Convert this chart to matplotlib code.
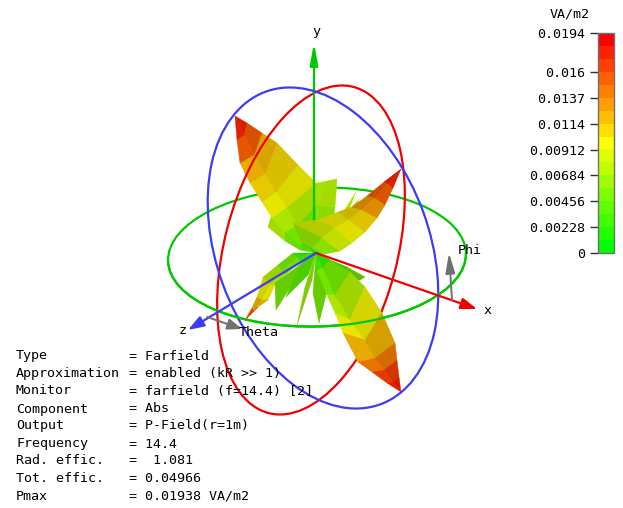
import matplotlib
matplotlib.use('Agg')
import matplotlib.pyplot as plt
from matplotlib.cm import ScalarMappable
from matplotlib.colors import LinearSegmentedColormap, Normalize, to_rgb
from matplotlib.patches import Arc, Ellipse

# colour scale
scale_ticks = [0, 0.00228, 0.00456, 0.00684, 0.00912, 0.0114, 0.0137, 0.016, 0.0194]
scale_labels = ['0', '0.00228', '0.00456', '0.00684', '0.00912', '0.0114', '0.0137', '0.016', '0.0194']
scale_unit = 'VA/m2'
scale_max = 0.0194

# info block
info_keys = ['Type', 'Approximation', 'Monitor', 'Component', 'Output', 'Frequency',
             'Rad. effic.', 'Tot. effic.', 'Pmax']
info_values = ['= Farfield', '= enabled (kR >> 1)', '= farfield (f=14.4) [2]', '= Abs',
               '= P-Field(r=1m)', '= 14.4', '=  1.081', '= 0.04966', '= 0.01938 VA/m2']
info_y = [356, 374, 391, 409, 426, 444, 461, 479, 496]

# rings: center, width, height, angle
green_ring = ((317, 257), 298, 139, -1.5)
blue_ring = ((323, 248), 333, 213, 69.8)
red_ring = ((311, 250), 337, 173, -75.4)

# lobes: rails run from the origin out to the tip, levels are VA/m2 at each station
origin = (316, 253)

ul_rails = [
    [(300, 245), (285, 232), (272, 218), (262, 202), (250, 183), (240, 163), (237, 140), (235, 116)],
    [(306, 238), (298, 225), (287, 207), (276, 192), (265, 174), (254, 155), (244, 135), (235, 116)],
    [(316, 225), (316, 205), (316, 183), (298, 165), (277, 143), (262, 133), (247, 123), (235, 116)],
]
ul_levels = [0.002, 0.003, 0.0055, 0.0078, 0.0095, 0.0108, 0.0125, 0.015, 0.018]

ur_rails = [
    [(302, 243), (293, 223), (317, 220), (338, 212), (352, 207), (367, 196), (384, 182), (401, 169)],
    [(312, 248), (322, 238), (335, 228), (349, 220), (362, 210), (375, 198), (388, 184), (401, 169)],
    [(325, 254), (340, 251), (352, 243), (365, 232), (377, 218), (385, 205), (393, 188), (401, 169)],
]
ur_levels = [0.002, 0.0035, 0.0068, 0.0082, 0.0095, 0.0112, 0.013, 0.015, 0.0178]

lr_rails = [
    [(317, 270), (327, 295), (335, 313), (343, 333), (358, 362), (372, 372), (387, 383), (401, 392)],
    [(323, 268), (335, 295), (350, 320), (365, 340), (375, 358), (384, 370), (393, 382), (401, 392)],
    [(330, 260), (350, 272), (365, 287), (382, 313), (395, 343), (397, 360), (399, 377), (401, 392)],
]
lr_levels = [0.001, 0.003, 0.0055, 0.0078, 0.0098, 0.0118, 0.0138, 0.016, 0.0182]

ll_rails = [
    [(293, 253), (278, 265), (263, 277), (257, 297), (252, 308), (245, 320)],
    [(297, 258), (282, 272), (270, 285), (262, 300), (254, 311), (245, 320)],
    [(300, 262), (285, 275), (275, 285), (268, 300), (258, 307), (245, 320)],
]
ll_levels = [0.001, 0.003, 0.005, 0.0075, 0.0098, 0.0125, 0.0155]

back_rails = [
    [(304, 235), (300, 215), (306, 196), (317, 183)],
    [(316, 238), (317, 222), (318, 205), (327, 181)],
    [(325, 240), (332, 228), (335, 207), (337, 179)],
]
back_levels = [0.002, 0.003, 0.0045, 0.0062, 0.0078]

back_left_rails = [
    [(300, 250), (285, 241), (268, 227)],
    [(302, 243), (285, 226), (275, 203)],
    [(310, 240), (300, 220), (290, 205)],
]
back_left_levels = [0.002, 0.0035, 0.0055, 0.007]

side_rails = [
    [(325, 258), (335, 262), (347, 267), (365, 277)],
    [(326, 262), (340, 275), (350, 281), (360, 280)],
]
side_levels = [0.001, 0.002, 0.0028, 0.0038, 0.0048]

# thin green spikes below the origin: left base, tip, right base
spike_left = [(275, 283), (305, 287), (313, 293), (300, 265), (322, 270)]
spike_tip = [(276, 310), (297, 325), (319, 323), (286, 297), (338, 303)]
spike_right = [(293, 283), (312, 280), (328, 287), (308, 275), (345, 285)]
spike_levels = [0.0052, 0.0058, 0.0052, 0.0042, 0.0048]

# small spikes behind the upper right lobe
upper_spike_base = [(344, 215), (350, 212)]
upper_spike_tip = [(357, 190), (360, 198)]
upper_spike_level = [0.007, 0.0065]

# axes and direction arrows: start, end
y_axis = ((314, 253), (314, 43))
x_axis = ((316, 253), (477, 309))
z_axis = ((316, 253), (188, 330))
phi_arrow = ((452, 300), (449, 253))
theta_arrow = ((207, 317), (242, 329))

cmap = LinearSegmentedColormap.from_list(
    'farfield', ['#00ff00', '#ffff00', '#ff0000']).resampled(17)
norm = Normalize(0, scale_max)

plt.rcParams['font.family'] = 'DejaVu Sans Mono'
plt.rcParams['font.size'] = 9.6

fig = plt.figure(figsize=(6.23, 5.08), dpi=100)
ax = fig.add_axes([0, 0, 1, 1])
ax.set_xlim(0, 623)
ax.set_ylim(508, 0)
ax.axis('off')


def shaded(level, shade):
    r, g, b = to_rgb(cmap(norm(level)))
    return (r * shade, g * shade, b * shade)


def draw_lobe(rails, levels, shades, z):
    # every rail starts at the origin, so the first band is a fan
    full = [[origin] + list(r) for r in rails]
    for j in range(len(full) - 1):
        for i in range(len(levels) - 1):
            pts = [full[j][i], full[j][i + 1], full[j + 1][i + 1], full[j + 1][i]]
            col = shaded(levels[i + 1], shades[j])
            ax.fill([p[0] for p in pts], [p[1] for p in pts], color=col, lw=0.3, zorder=z)


def draw_ring(ring, color, z):
    ax.add_patch(Ellipse(ring[0], ring[1], ring[2], angle=ring[3], fill=False,
                         edgecolor=color, lw=1.6, zorder=z))


def draw_arrow(pts, color, lw, z, length=1.2, width=0.42):
    ax.annotate('', xy=pts[1], xytext=pts[0], zorder=z,
                arrowprops=dict(arrowstyle=f'-|>,head_length={length},head_width={width}',
                                color=color, lw=lw, mutation_scale=8, shrinkA=0, shrinkB=0))


draw_ring(green_ring, '#00c800', 1)
draw_lobe(back_rails, back_levels, [0.88, 0.86], 2)
for b, t, lv in zip(upper_spike_base, upper_spike_tip, upper_spike_level):
    ax.fill([b[0] - 3, t[0], b[0] + 3], [b[1], t[1], b[1]], color=shaded(lv, 0.9), lw=0, zorder=2)
draw_lobe(back_left_rails, back_left_levels, [0.86, 0.82], 2)
draw_lobe(ul_rails, ul_levels, [0.9, 0.85], 3)
draw_ring(red_ring, '#f00000', 4)
draw_arrow(y_axis, '#00c800', 1.6, 5, length=1.6, width=0.3)
draw_lobe(ur_rails, ur_levels, [0.8, 0.87], 6)
draw_lobe(ll_rails, ll_levels, [0.82, 0.88], 6)
draw_lobe(side_rails, side_levels, [0.75], 6)
for l, t, r, lv in zip(spike_left, spike_tip, spike_right, spike_levels):
    ax.fill([origin[0], l[0], t[0], r[0]], [origin[1], l[1], t[1], r[1]],
            color=shaded(lv, 0.8), lw=0.3, zorder=6)
draw_lobe(lr_rails, lr_levels, [0.9, 0.83], 6)
draw_ring(blue_ring, '#3c3cf5', 7)
# front half of the green ring runs over the lobes
ax.add_patch(Arc(green_ring[0], green_ring[1], green_ring[2], angle=green_ring[3],
                 theta1=0, theta2=180, edgecolor='#00c800', lw=1.6, zorder=8))
draw_arrow(x_axis, '#f00000', 1.6, 9)
draw_arrow(z_axis, '#3c3cf5', 1.6, 9)
draw_arrow(phi_arrow, '#707070', 1.4, 9, length=1.5, width=0.36)
draw_arrow(theta_arrow, '#707070', 1.4, 9, length=1.1, width=0.42)

ax.text(316, 31, 'y', ha='center', va='center', zorder=10)
ax.text(487, 310, 'x', ha='center', va='center', zorder=10)
ax.text(183, 330, 'z', ha='center', va='center', zorder=10)
ax.text(458, 250, 'Phi', ha='left', va='center', zorder=10)
ax.text(239, 332, 'Theta', ha='left', va='center', zorder=10)

for key, value, y in zip(info_keys, info_values, info_y):
    ax.text(16, y, key, ha='left', va='center', zorder=10)
    ax.text(129, y, value, ha='left', va='center', zorder=10)

ax.text(570, 14, scale_unit, ha='center', va='center')

# colour bar, placed by pixels
cax = fig.add_axes([598 / 623, 1 - 253 / 508, 16 / 623, 220 / 508])
cb = fig.colorbar(ScalarMappable(norm=norm, cmap=cmap), cax=cax)
cb.set_ticks(scale_ticks)
cb.set_ticklabels(scale_labels)
cb.minorticks_off()
cax.yaxis.set_ticks_position('left')
cax.tick_params(axis='y', length=6, width=1, color='#303030', pad=3)
cb.outline.set_edgecolor('#707070')
cb.outline.set_linewidth(1)

fig.savefig('out.png', dpi=100)
